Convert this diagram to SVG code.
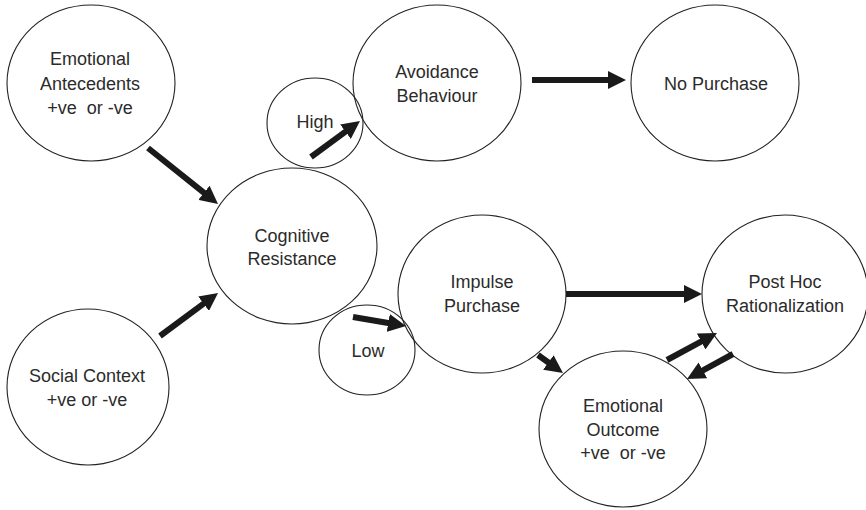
<svg xmlns="http://www.w3.org/2000/svg" width="866" height="510" viewBox="0 0 866 510">
<style>
.n{fill:none;stroke:#222;stroke-width:1.1}
.t{font-family:"Liberation Sans",Arial,sans-serif;font-size:18px;fill:#2b2b2b;text-anchor:middle;white-space:pre}
.c{stroke:#1a1a1a;stroke-width:6;fill:none;marker-end:url(#ah)}
</style>
<defs>
<marker id="ah" viewBox="0 0 3 3" refX="0.5" refY="1.5" markerWidth="3" markerHeight="3" orient="auto" markerUnits="strokeWidth">
<path d="M0,0 L3,1.5 L0,3 z" fill="#1a1a1a"/>
</marker>
</defs>
<rect width="866" height="510" fill="#fff"/>
<g id="emotional-antecedents">
<ellipse class="n" cx="91" cy="83" rx="84" ry="78"/>
<text class="t" x="90" y="65">Emotional</text>
<text class="t" x="90" y="90">Antecedents</text>
<text class="t" x="90" y="114">+ve  or -ve</text>
</g>
<g id="avoidance-behaviour">
<ellipse class="n" cx="437" cy="83" rx="84" ry="78"/>
<text class="t" x="437" y="78">Avoidance</text>
<text class="t" x="437" y="102">Behaviour</text>
</g>
<g id="high">
<ellipse class="n" cx="315" cy="123" rx="48" ry="45"/>
<text class="t" x="315" y="128">High</text>
</g>
<g id="no-purchase">
<ellipse class="n" cx="715" cy="83" rx="84" ry="78"/>
<text class="t" x="716" y="90">No Purchase</text>
</g>
<g id="cognitive-resistance">
<ellipse class="n" cx="292" cy="246" rx="85" ry="78"/>
<text class="t" x="292" y="242">Cognitive</text>
<text class="t" x="292" y="265">Resistance</text>
</g>
<g id="impulse-purchase">
<ellipse class="n" cx="482" cy="294" rx="84" ry="79"/>
<text class="t" x="482" y="288">Impulse</text>
<text class="t" x="482" y="312">Purchase</text>
</g>
<g id="low">
<ellipse class="n" cx="367" cy="350" rx="48" ry="45"/>
<text class="t" x="368" y="357">Low</text>
</g>
<g id="post-hoc-rationalization">
<ellipse class="n" cx="785" cy="294" rx="83" ry="79"/>
<text class="t" x="785" y="288">Post Hoc</text>
<text class="t" x="785" y="312">Rationalization</text>
</g>
<g id="emotional-outcome">
<ellipse class="n" cx="623" cy="429" rx="84" ry="78"/>
<text class="t" x="623" y="412">Emotional</text>
<text class="t" x="623" y="436">Outcome</text>
<text class="t" x="623" y="459">+ve  or -ve</text>
</g>
<g id="social-context">
<ellipse class="n" cx="88" cy="387" rx="81" ry="78"/>
<text class="t" x="87" y="382">Social Context</text>
<text class="t" x="87" y="406">+ve or -ve</text>
</g>
<g id="connectors">
<line class="c" x1="148" y1="148" x2="206.3" y2="194.6"/>
<line class="c" x1="160" y1="336" x2="206" y2="301.9"/>
<line class="c" x1="532" y1="80" x2="611" y2="80"/>
<line class="c" x1="311" y1="157" x2="347.9" y2="129.9"/>
<line class="c" x1="353" y1="317" x2="391.2" y2="323.5"/>
<line class="c" x1="538" y1="355" x2="550.8" y2="364.2"/>
<line class="c" x1="566" y1="294" x2="687" y2="294"/>
<line class="c" x1="667" y1="360" x2="703.8" y2="340.1"/>
<line class="c" x1="733" y1="354" x2="700.2" y2="371.8"/>
</g>
</svg>
